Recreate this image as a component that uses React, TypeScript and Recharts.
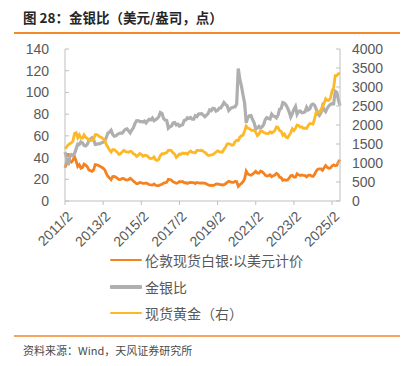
import React from 'react';
import { LineChart, Line, XAxis, YAxis } from 'recharts';

// Monthly observations from 2011/2 to 2025/7
const startYear = 2011;
const startMonth = 2;

// 伦敦现货白银:以美元计价 (left axis)
const silver: number[] = [
  30.5, 35.8, 44.0, 37.0, 35.8, 37.6, 40.8, 37.0, 31.8, 33.4, 30.3,
  30.9, 34.0, 33.0, 31.6, 28.7, 28.0, 27.4, 28.7, 33.5, 33.3, 32.7, 32.0,
  31.1, 30.2, 28.8, 25.4, 22.6, 21.1, 19.7, 22.5, 22.6, 21.9, 20.8, 19.7,
  19.9, 20.8, 20.7, 19.7, 19.4, 19.8, 20.9, 19.8, 18.4, 17.2, 15.9, 16.2,
  17.1, 16.8, 16.2, 16.3, 16.7, 16.0, 15.0, 14.9, 14.7, 15.7, 14.5, 14.1,
  14.1, 15.0, 15.4, 16.3, 16.9, 17.2, 19.9, 19.6, 19.2, 17.6, 17.1, 16.4,
  16.8, 17.9, 17.6, 18.0, 16.8, 16.9, 16.1, 16.9, 17.1, 17.0, 17.0, 16.1,
  17.1, 16.6, 16.5, 16.6, 16.5, 16.5, 15.7, 14.9, 14.3, 14.6, 14.3, 14.7,
  15.6, 15.8, 15.2, 15.0, 14.6, 15.0, 15.9, 17.1, 18.1, 17.6, 17.1, 17.1,
  18.0, 17.9, 13.5, 15.0, 16.2, 17.7, 20.5, 27.5, 25.0, 24.2, 23.7, 24.8,
  25.9, 27.3, 25.6, 25.6, 27.5, 26.9, 25.6, 23.8, 23.1, 23.4, 24.1, 22.4,
  23.2, 23.8, 25.5, 24.5, 21.9, 21.5, 19.1, 19.6, 19.0, 19.4, 21.0, 23.3,
  23.6, 22.0, 22.0, 25.0, 24.1, 23.4, 24.0, 23.5, 23.3, 22.2, 23.7, 24.0,
  23.0, 22.7, 24.5, 27.5, 29.3, 29.5, 29.6, 28.3, 30.6, 32.7, 31.0, 30.2,
  30.5, 32.3, 33.3, 32.5, 32.8, 36.0, 38.0,
];

// 金银比 (left axis)
const ratio: number[] = [
  45.1, 39.8, 33.0, 40.8, 42.7, 41.9, 43.7, 48.0, 52.4, 52.1, 54.5,
  53.6, 51.2, 50.8, 52.2, 55.4, 57.0, 58.2, 56.6, 52.1, 52.4, 52.6, 52.7,
  53.7, 54.0, 55.2, 58.5, 62.6, 63.5, 65.2, 61.4, 59.7, 60.0, 61.3, 62.2,
  62.6, 62.5, 64.5, 66.0, 66.5, 64.6, 62.7, 65.4, 67.4, 71.2, 73.9, 74.1,
  73.1, 73.2, 72.8, 73.6, 71.9, 73.8, 75.3, 74.8, 76.5, 73.9, 74.8, 75.9,
  77.7, 81.5, 80.8, 76.1, 74.6, 74.1, 67.1, 68.4, 69.0, 71.9, 72.2, 70.1,
  70.8, 69.0, 69.9, 70.3, 74.1, 74.6, 76.7, 76.0, 76.9, 75.3, 75.3, 78.6,
  77.8, 80.1, 80.3, 80.4, 79.1, 77.6, 79.0, 80.5, 83.9, 83.2, 85.3, 85.0,
  82.7, 83.5, 85.5, 85.7, 88.0, 90.7, 89.0, 87.7, 83.4, 84.9, 86.0, 86.5,
  86.7, 89.4, 122.0, 112.0, 105.9, 97.7, 90.0, 72.0, 76.8, 78.5, 78.7, 75.0,
  72.0, 66.3, 67.2, 68.8, 67.3, 68.2, 70.5, 75.0, 76.8, 75.9, 75.5, 79.9,
  78.2, 77.9, 76.5, 79.0, 84.5, 85.3, 90.6, 90.1, 88.4, 85.8, 82.1, 77.3,
  80.5, 84.3, 87.0, 80.0, 82.6, 82.9, 81.3, 81.5, 82.2, 86.3, 83.8, 84.8,
  88.5, 89.2, 88.2, 84.7, 80.2, 78.8, 81.1, 87.3, 84.0, 82.3, 85.5, 87.7,
  88.9, 89.6, 89.5, 101.0, 100.0, 93.0, 88.0,
];

// 现货黄金 (right axis)
const gold: number[] = [
  1375, 1425, 1475, 1510, 1530, 1575, 1780, 1800, 1665, 1740, 1650,
  1655, 1740, 1675, 1650, 1590, 1595, 1595, 1625, 1745, 1745, 1720, 1685,
  1670, 1630, 1590, 1485, 1415, 1340, 1285, 1350, 1350, 1315, 1275, 1225,
  1245, 1300, 1335, 1300, 1290, 1280, 1310, 1295, 1240, 1225, 1175, 1200,
  1250, 1230, 1180, 1200, 1200, 1180, 1130, 1115, 1125, 1160, 1085, 1070,
  1095, 1200, 1245, 1240, 1260, 1275, 1335, 1340, 1325, 1265, 1235, 1150,
  1190, 1235, 1230, 1265, 1245, 1260, 1235, 1285, 1315, 1280, 1280, 1265,
  1330, 1330, 1325, 1335, 1305, 1280, 1240, 1200, 1200, 1215, 1220, 1250,
  1290, 1320, 1300, 1285, 1285, 1360, 1415, 1500, 1510, 1495, 1470, 1480,
  1560, 1600, 1590, 1680, 1715, 1730, 1845, 1970, 1920, 1900, 1865, 1860,
  1865, 1810, 1720, 1760, 1850, 1835, 1805, 1785, 1775, 1775, 1820, 1790,
  1815, 1855, 1950, 1935, 1850, 1835, 1730, 1765, 1680, 1665, 1725, 1800,
  1900, 1855, 1915, 2000, 1990, 1940, 1950, 1915, 1915, 1915, 1985, 2035,
  2035, 2025, 2160, 2330, 2350, 2325, 2400, 2470, 2570, 2690, 2650, 2650,
  2710, 2895, 2980, 3300, 3300, 3350, 3350,
];

const xTicks = [0, 24, 48, 72, 96, 120, 144, 168];
const leftTicks = [0, 20, 40, 60, 80, 100, 120, 140];
const rightTicks = [0, 500, 1000, 1500, 2000, 2500, 3000, 3500, 4000];

const monthLabel = (i: number) => {
  const m = startMonth - 1 + i;
  return `${startYear + Math.floor(m / 12)}/${(m % 12) + 1}`;
};

const data = silver.map((s, i) => ({
  i,
  label: monthLabel(i),
  silver: s,
  ratio: ratio[i],
  gold: gold[i],
}));

const COLOR_SILVER = '#F5821F';
const COLOR_RATIO = '#AFAFAF';
const COLOR_GOLD = '#FDB827';
const AXIS = '#BFBFBF';
const TEXT = '#595959';
const NUMFONT = '"Liberation Sans", Arial, "Noto Sans CJK SC", sans-serif';
const CJK = '"Noto Sans CJK SC", "Liberation Sans", sans-serif';

const XTick = (props: any) => {
  const { x, y, payload } = props;
  return (
    <g transform={`translate(${x + 5},${y + 7})`}>
      <text
        x={0}
        y={0}
        dy={4.5}
        textAnchor="end"
        transform="rotate(-45)"
        fill={TEXT}
        fontSize={14}
        fontFamily={NUMFONT}
      >
        {monthLabel(payload.value)}
      </text>
    </g>
  );
};

const legendItems = [
  { name: '伦敦现货白银:以美元计价', color: COLOR_SILVER, w: 2.5, y: 260 },
  { name: '金银比', color: COLOR_RATIO, w: 3.5, y: 287 },
  { name: '现货黄金（右）', color: COLOR_GOLD, w: 2.5, y: 313 },
];

export default function App() {
  return (
    <div
      style={{
        position: 'absolute',
        left: 0,
        top: 0,
        width: 405,
        height: 366,
        background: '#fff',
        overflow: 'hidden',
      }}
    >
      <div
        style={{
          position: 'absolute',
          left: 23,
          top: 7,
          fontFamily: CJK,
          fontWeight: 700,
          fontSize: 13.5,
          color: '#262626',
          whiteSpace: 'nowrap',
          lineHeight: '20px',
        }}
      >
        图 28：金银比（美元/盎司，点）
      </div>
      <div
        style={{
          position: 'absolute',
          left: 14,
          top: 32,
          width: 386,
          height: 2,
          background: '#F28A2A',
        }}
      />
      <div style={{ position: 'absolute', left: 0, top: 0 }}>
        <LineChart
          width={405}
          height={262}
          data={data}
          margin={{ top: 49, right: 0, bottom: 0, left: 0 }}
        >
          <XAxis
            dataKey="i"
            type="number"
            domain={[0, 173]}
            ticks={xTicks}
            height={61}
            interval={0}
            stroke={AXIS}
            tickSize={4}
            tickMargin={2}
            tick={<XTick />}
          />
          <YAxis
            yAxisId="left"
            orientation="left"
            width={65}
            domain={[0, 140]}
            ticks={leftTicks}
            interval={0}
            stroke={AXIS}
            tickSize={-4}
            tickMargin={20}
            tick={{ fill: TEXT, fontSize: 14, fontFamily: NUMFONT }}
          />
          <YAxis
            yAxisId="right"
            orientation="right"
            width={65}
            domain={[0, 4000]}
            ticks={rightTicks}
            interval={0}
            stroke={AXIS}
            tickSize={-4}
            tickMargin={16}
            tick={{ fill: TEXT, fontSize: 14, fontFamily: NUMFONT, textAnchor: 'start' }}
          />
          <Line
            yAxisId="left"
            dataKey="silver"
            stroke={COLOR_SILVER}
            strokeWidth={2.8}
            dot={false}
            type="linear"
            isAnimationActive={false}
          />
          <Line
            yAxisId="left"
            dataKey="ratio"
            stroke={COLOR_RATIO}
            strokeWidth={3.2}
            dot={false}
            type="linear"
            isAnimationActive={false}
          />
          <Line
            yAxisId="right"
            dataKey="gold"
            stroke={COLOR_GOLD}
            strokeWidth={2.8}
            dot={false}
            type="linear"
            isAnimationActive={false}
          />
        </LineChart>
      </div>
      {legendItems.map((it) => (
        <div
          key={it.name}
          style={{
            position: 'absolute',
            left: 110,
            top: it.y - 10,
            height: 20,
            display: 'flex',
            alignItems: 'center',
            whiteSpace: 'nowrap',
          }}
        >
          <span
            style={{
              display: 'inline-block',
              width: 32,
              height: it.w,
              background: it.color,
              borderRadius: 1,
            }}
          />
          <span
            style={{
              marginLeft: 3,
              fontFamily: CJK,
              fontSize: 14,
              color: TEXT,
              lineHeight: '20px',
            }}
          >
            {it.name}
          </span>
        </div>
      ))}
      <div
        style={{
          position: 'absolute',
          left: 14,
          top: 335,
          width: 386,
          height: 2,
          background: '#F5A55E',
        }}
      />
      <div
        style={{
          position: 'absolute',
          left: 23,
          top: 342,
          fontFamily: CJK,
          fontSize: 11,
          color: '#4a4a4a',
          whiteSpace: 'nowrap',
          lineHeight: '16px',
        }}
      >
        资料来源：Wind，天风证券研究所
      </div>
    </div>
  );
}
